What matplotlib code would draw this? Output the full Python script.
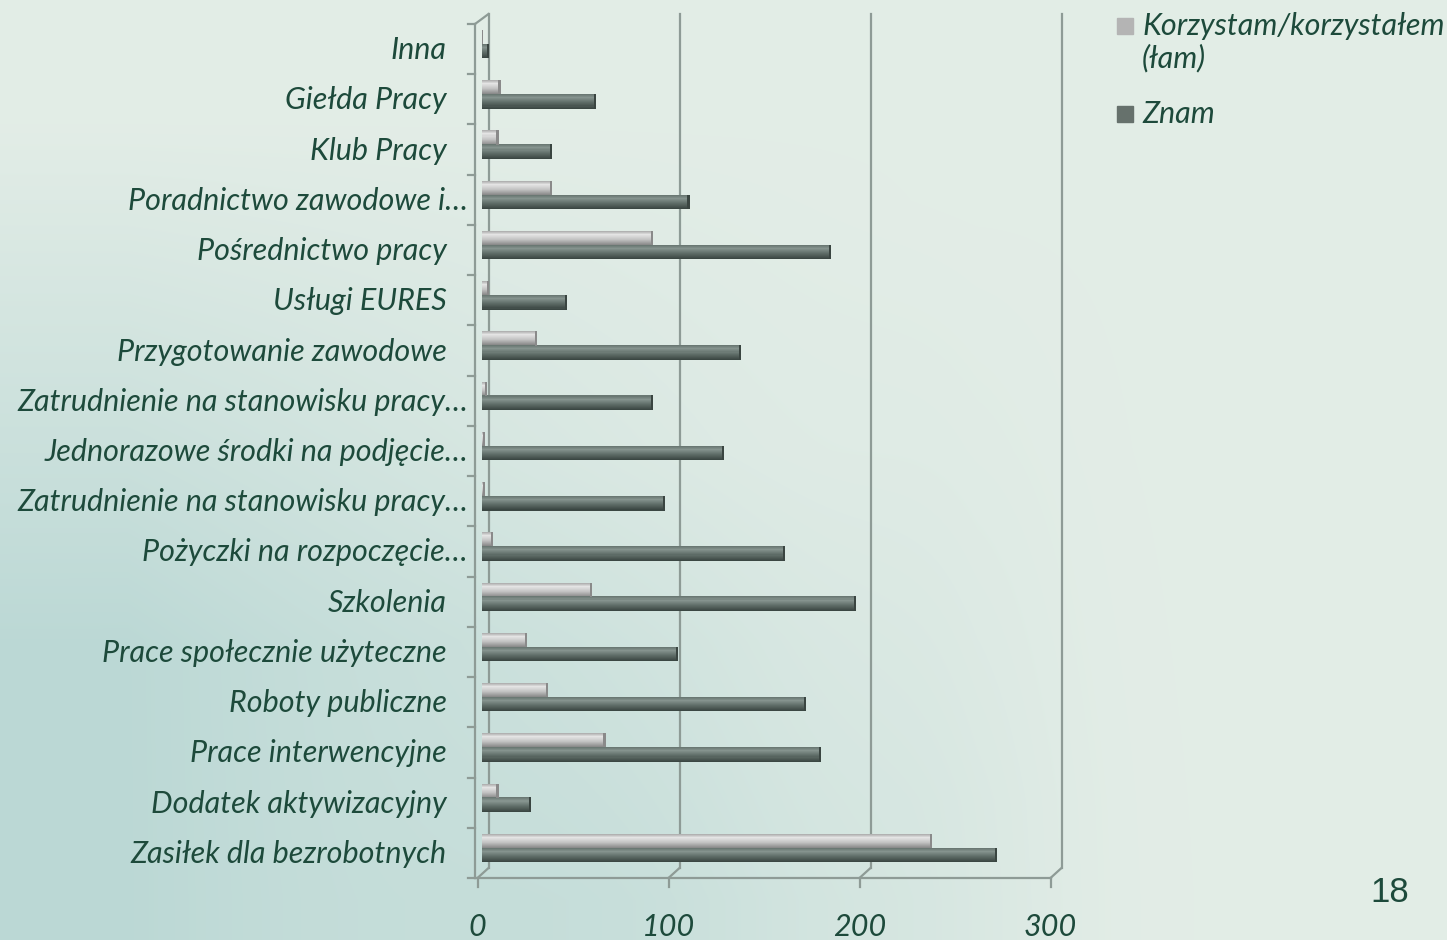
import matplotlib.pyplot as plt
import matplotlib.transforms as mtransforms
from matplotlib.colors import to_rgb
import numpy as np

categories = [
    "Inna",
    "Giełda Pracy",
    "Klub Pracy",
    "Poradnictwo zawodowe i…",
    "Pośrednictwo pracy",
    "Usługi EURES",
    "Przygotowanie zawodowe",
    "Zatrudnienie na stanowisku pracy…",
    "Jednorazowe środki na podjęcie…",
    "Zatrudnienie na stanowisku pracy…",
    "Pożyczki na rozpoczęcie…",
    "Szkolenia",
    "Prace społecznie użyteczne",
    "Roboty publiczne",
    "Prace interwencyjne",
    "Dodatek aktywizacyjny",
    "Zasiłek dla bezrobotnych",
]
korzystam = [1, 10, 9, 37, 90, 4, 29, 3, 2, 2, 6, 58, 24, 35, 65, 9, 236]
znam = [4, 60, 37, 109, 183, 45, 136, 90, 127, 96, 159, 196, 103, 170, 178, 26, 270]
series_names = ["Korzystam/korzystałem\n(łam)", "Znam"]
x_ticks = [0, 100, 200, 300]
page_number = "18"

W, H = 1447, 940
TXT = "#1d4a3b"
GRID = "#8e9b96"
FONT = "Lato"
FS = 22

fig = plt.figure(figsize=(W / 100, H / 100), dpi=100)

# soft green / teal slide background
yy, xx = np.mgrid[0:H, 0:W].astype(float)
light = np.array([0.89, 0.93, 0.905])
teal = np.array([0.71, 0.835, 0.825])
w = np.clip(1.15 - xx / 850, 0, 1) ** 1.2 * np.clip((yy - 120) / 520, 0, 1) * 0.85
w += 0.3 * np.exp(-((xx - 650) / 260) ** 2) * np.clip((yy - 450) / 450, 0, 1)
w += 0.15 * np.exp(-((xx - 950) / 120) ** 2) * np.clip((yy - 200) / 600, 0, 1)
w = np.clip(w, 0, 1)
bg = light * (1 - w[..., None]) + teal * w[..., None]
bg_ax = fig.add_axes([0, 0, 1, 1])
bg_ax.imshow(bg, aspect="auto", interpolation="bilinear")
bg_ax.axis("off")

n = len(categories)
y = np.arange(n)
ax = fig.add_axes([481.5 / W, (H - 878) / H, 573 / W, 854 / H])
ax.set_xlim(0, x_ticks[-1])
ax.set_ylim(n - 0.5, -0.5)
ax.axis("off")

ident = mtransforms.IdentityTransform()


def px(x, yv, dx=0, dy=0):
    # data -> display pixels, dy measured downward like the image
    a, b = ax.transData.transform((x, yv))
    return a + dx, b - dy


def seg(p0, p1, z=1):
    ax.add_artist(plt.Line2D([p0[0], p1[0]], [p0[1], p1[1]], transform=ident,
                             color=GRID, lw=1.6, clip_on=False, zorder=z))


top, bot = -0.5, n - 0.5
# back wall gridlines and floor
for v in x_ticks:
    seg(px(v, top, 7, -10), px(v, bot, 7, -10))
    seg(px(v, bot, -4, 0), px(v, bot, 7, -10))
    seg(px(v, bot, -4, 0), px(v, bot, -4, 9))
seg(px(0, top, -6.5, 0), px(0, top, 7, -10))
# front left axis with ticks
seg(px(0, top, -6.5, 0), px(0, bot, -6.5, 0))
for k in range(n + 1):
    seg(px(0, k - 0.5, -13.5, 0), px(0, k - 0.5, -6.5, 0))
seg(px(0, bot, -6.5, 0), px(x_ticks[-1], bot, -4, 0))


def cylinder(pos, vals, h, stops, cap):
    # stack thin slices to fake the rounded 3D shading
    m = 14
    fr = np.array([s[0] for s in stops])
    cols = np.array([to_rgb(s[1]) for s in stops])
    for k in range(m):
        t = (k + 0.5) / m
        c = [np.interp(t, fr, cols[:, j]) for j in range(3)]
        ax.barh(pos - h / 2 + (k + 0.5) * h / m, vals, height=h / m * 1.05,
                color=c, lw=0, zorder=3)
    vals = np.asarray(vals, float)
    ax.barh(pos, np.minimum(vals, 1.2), left=vals - np.minimum(vals, 1.2),
            height=h, color=cap, lw=0, zorder=4)


cylinder(y - 0.24, korzystam, 0.28,
         [(0, "#a9a9a9"), (0.25, "#e4e4e4"), (0.6, "#c3c3c3"), (1, "#868686")], "#8a8a8a")
cylinder(y + 0.04, znam, 0.29,
         [(0, "#66746f"), (0.25, "#85938e"), (0.6, "#5e6c67"), (1, "#38433f")], "#3a4541")

# category labels
for i, cat in enumerate(categories):
    dx = -13.5 if cat.endswith("…") else -34.5
    ax.text(0, i, cat, transform=mtransforms.offset_copy(ax.transData, fig, x=dx, y=-1, units="dots"),
            ha="right", va="center", fontsize=FS, style="italic", family=FONT, color=TXT)

for v in x_ticks:
    ax.text(v, bot, str(v), transform=mtransforms.offset_copy(ax.transData, fig, x=-4, y=-49, units="dots"),
            ha="center", va="center", fontsize=FS, style="italic", family=FONT, color=TXT)

# legend
for j, (name, col) in enumerate(zip(series_names, ["#b4b4b4", "#66716c"])):
    base = [35, 123][j]
    fig.add_artist(plt.Rectangle((1117, H - base + 1), 16, 16, transform=ident, color=col))
    for li, line in enumerate(name.split("\n")):
        fig.text(1142 / W, 1 - (base + 32 * li) / H, line, ha="left", va="baseline", fontsize=FS,
                 style="italic", family=FONT, color=TXT)

fig.text(1390 / W, 1 - 892 / H, page_number, ha="center", va="center", fontsize=25,
         family="Liberation Sans", color=TXT)

fig.savefig("out.png", dpi=100)
